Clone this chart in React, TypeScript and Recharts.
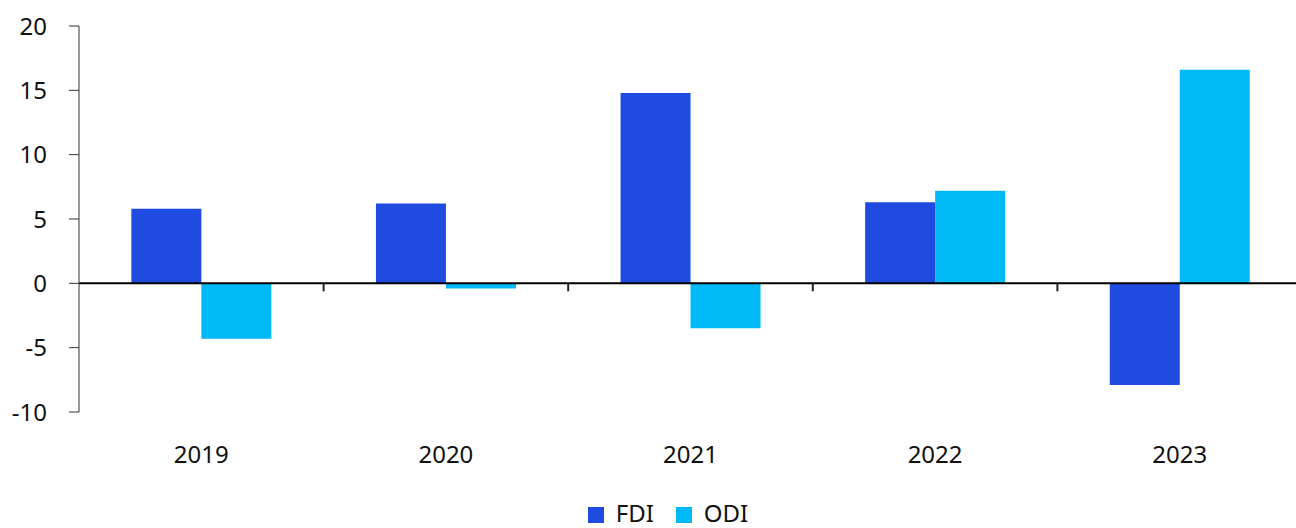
import { Bar, BarChart, Legend, ReferenceLine, XAxis, YAxis } from "recharts";

const years = ["2019", "2020", "2021", "2022", "2023"];
const fdi = [5.8, 6.2, 14.8, 6.3, -7.9];
const odi = [-4.3, -0.4, -3.5, 7.2, 16.6];
const yTicks = [-10, -5, 0, 5, 10, 15, 20];

const seriesNames = ["FDI", "ODI"];
const seriesColors = ["#1f4be1", "#00b9f6"];

const data = years.map((year, i) => ({ year, FDI: fdi[i], ODI: odi[i] }));
// small tick marks on the zero line sit at the end of each band except the last
const boundaryYears = years.slice(0, -1);

const font = "'Noto Sans', sans-serif";

function LegendContent() {
  return (
    <div
      style={{
        display: "flex",
        justifyContent: "center",
        alignItems: "center",
        height: 30,
        fontFamily: font,
        fontSize: 24,
        lineHeight: "30px",
        color: "#111",
      }}
    >
      {seriesNames.map((name, i) => (
        <div key={name} style={{ display: "flex", alignItems: "center", marginLeft: i ? 22 : 0 }}>
          <span style={{ width: 16, height: 16, background: seriesColors[i], marginRight: 12, marginTop: 3 }} />
          <span>{name}</span>
        </div>
      ))}
    </div>
  );
}

export default function App() {
  return (
    <div style={{ position: "fixed", left: 0, top: 0, width: 1296, height: 528, overflow: "hidden", background: "#fff" }}>
      <BarChart
        width={1310}
        height={528}
        data={data}
        margin={{ top: 26, right: 8, left: 0, bottom: 26 }}
        barCategoryGap="21.4%"
        barGap={0}
      >
        <XAxis
          dataKey="year"
          axisLine={false}
          tickLine={false}
          tickSize={0}
          tickMargin={34}
          height={60}
          tick={{ fill: "#111", fontSize: 24, fontFamily: font }}
        />
        <YAxis
          domain={[-10, 20]}
          ticks={yTicks}
          width={79}
          axisLine={{ stroke: "#333", strokeWidth: 1 }}
          tickLine={{ stroke: "#333", strokeWidth: 1 }}
          tickSize={10}
          tickMargin={22}
          tick={{ fill: "#111", fontSize: 24, fontFamily: font }}
        />
        <Legend
          verticalAlign="bottom"
          content={<LegendContent />}
          wrapperStyle={{ left: 0, width: 1336, bottom: 0 }}
        />
        <Bar dataKey="FDI" fill={seriesColors[0]} isAnimationActive={false} />
        <Bar dataKey="ODI" fill={seriesColors[1]} isAnimationActive={false} />
        <ReferenceLine y={0} stroke="#000" strokeWidth={2} />
        {boundaryYears.map((yr) => (
          <ReferenceLine
            key={yr}
            position="end"
            segment={[{ x: yr, y: 0 }, { x: yr, y: -0.62 }]}
            stroke="#222"
            strokeWidth={2}
          />
        ))}
      </BarChart>
    </div>
  );
}
